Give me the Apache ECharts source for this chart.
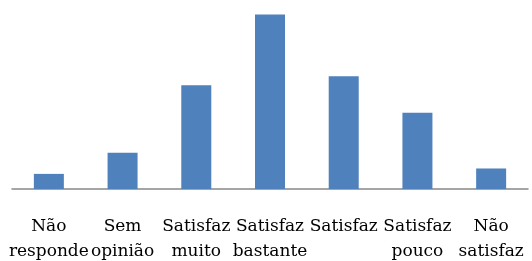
<!DOCTYPE html>
<html>
<head>
<meta charset="utf-8">
<script src="https://cdn.jsdelivr.net/npm/echarts@6/dist/echarts.min.js"></script>
<style>
  html, body { margin: 0; padding: 0; background: #fff; }
  #chart { width: 532px; height: 261px; }
</style>
</head>
<body>
<div id="chart"></div>
<script>
  // categorias e valores (percentagem estimada a partir da figura)
  const categories = ['Não\nresponde', 'Sem\nopinião', 'Satisfaz\nmuito', 'Satisfaz\nbastante', 'Satisfaz', 'Satisfaz\npouco', 'Não\nsatisfaz'];
  const values = [2.8, 6.7, 19.2, 32.3, 20.9, 14.1, 3.8];

  const chart = echarts.init(document.getElementById('chart'));
  const option = {
    animation: false,
    grid: { left: 12, right: 4, top: 0, bottom: 72, outerBoundsMode: 'none' },
    xAxis: {
      type: 'category',
      data: categories,
      axisTick: { show: false },
      axisLine: { lineStyle: { color: '#888888', width: 1.5 } },
      axisLabel: {
        interval: 0,
        hideOverlap: false,
        margin: 25,
        fontFamily: 'DejaVu Serif',
        fontSize: 17,
        lineHeight: 25,
        color: '#000'
      }
    },
    yAxis: {
      type: 'value',
      min: 0,
      max: 35,
      show: false,
      splitLine: { show: false }
    },
    series: [{
      type: 'bar',
      data: values,
      barWidth: '40.7%',
      itemStyle: { color: '#4F81BD' }
    }]
  };
  chart.setOption(option);
</script>
</body>
</html>
